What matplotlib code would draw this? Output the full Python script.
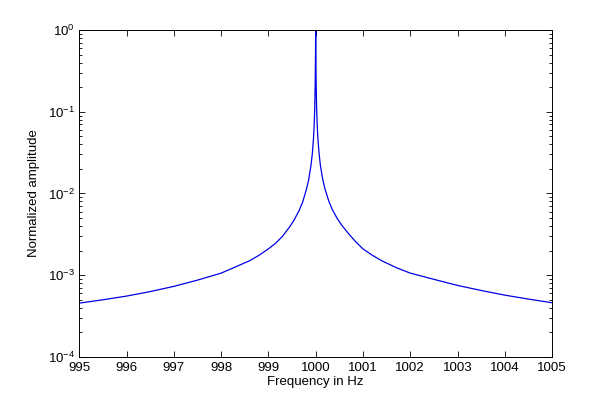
import matplotlib
matplotlib.use('Agg')
import matplotlib.pyplot as plt
from matplotlib.ticker import LogLocator, FixedLocator

plt.rcParams['font.family'] = ['Liberation Sans', 'DejaVu Sans']
plt.rcParams['mathtext.default'] = 'regular'

# values (frequency in Hz, normalized amplitude)
freq = [995.0, 995.5, 996.0, 996.5, 997.0, 997.5, 998.0, 998.3, 998.6, 998.8,
        999.0, 999.15, 999.3, 999.45, 999.55, 999.65, 999.72, 999.8, 999.85,
        999.9, 999.93, 999.955, 999.97, 999.98, 999.99, 999.995,
        1000.0,
        1000.005, 1000.01, 1000.02, 1000.03, 1000.045, 1000.07, 1000.1,
        1000.15, 1000.2, 1000.28, 1000.35, 1000.45, 1000.55, 1000.7, 1000.85,
        1001.0, 1001.2, 1001.4, 1001.7, 1002.0, 1002.5, 1003.0, 1003.5,
        1004.0, 1004.5, 1005.0]
amp = [4.55e-4, 5.0e-4, 5.55e-4, 6.3e-4, 7.3e-4, 8.7e-4, 1.06e-3, 1.26e-3, 1.5e-3, 1.75e-3,
       2.1e-3, 2.45e-3, 3.0e-3, 3.9e-3, 4.8e-3, 6.2e-3, 7.7e-3, 1.1e-2, 1.45e-2,
       2.2e-2, 3.1e-2, 4.8e-2, 7.2e-2, 1.1e-1, 2.2e-1, 4.2e-1,
       1.0,
       4.2e-1, 2.2e-1, 1.1e-1, 7.4e-2, 4.9e-2, 3.2e-2, 2.2e-2,
       1.48e-2, 1.12e-2, 8.0e-3, 6.4e-3, 5.0e-3, 4.1e-3, 3.2e-3, 2.55e-3,
       2.1e-3, 1.75e-3, 1.5e-3, 1.24e-3, 1.06e-3, 8.9e-4, 7.5e-4, 6.5e-4,
       5.7e-4, 5.1e-4, 4.6e-4]

xticks = list(range(995, 1006))

fig = plt.figure(figsize=(6.10, 4.01), dpi=100)
ax = fig.add_axes([0.13, 0.11, 0.775, 0.815])

ax.plot(freq, amp, color='#0000e6', lw=0.9)

ax.set_yscale('log')
ax.set_xlim(995, 1005)
ax.set_ylim(1e-4, 1)
ax.xaxis.set_major_locator(FixedLocator(xticks))
ax.set_xticklabels([str(t) for t in xticks])
ax.yaxis.set_minor_locator(LogLocator(base=10, subs=range(2, 10), numticks=10))
ax.set_yticks([1e-4, 1e-3, 1e-2, 1e-1, 1])
ax.set_yticklabels(['$10^{-4}$', '$10^{-3}$', '$10^{-2}$', '$10^{-1}$', '$10^{0}$'])

ax.tick_params(which='both', direction='in', top=True, right=True,
               labelsize=9.5, color='black', width=0.6)
ax.tick_params(which='major', length=4, pad=3)
ax.tick_params(axis='x', which='major', pad=4)
ax.tick_params(which='minor', length=2.5)
for s in ax.spines.values():
    s.set_linewidth(0.7)

ax.set_xlabel('Frequency in Hz', fontsize=9.5, labelpad=1)
ax.set_ylabel('Normalized amplitude', fontsize=9.5, labelpad=6)

fig.savefig('out.png', dpi=100, facecolor='white')
